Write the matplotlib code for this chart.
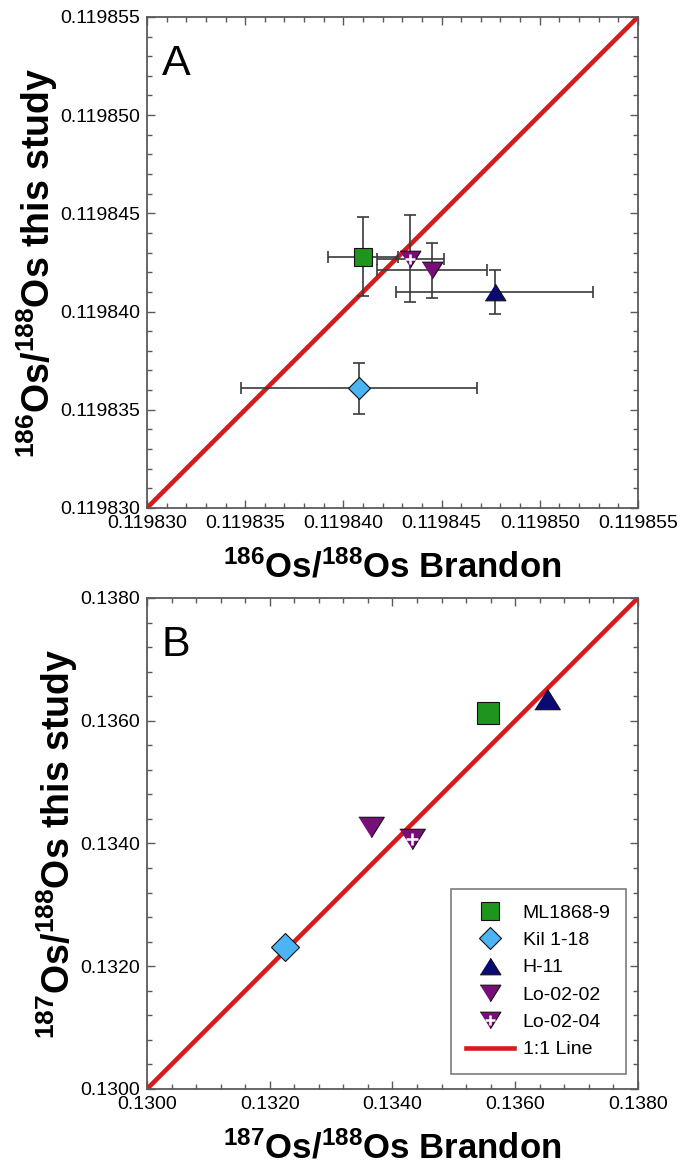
import numpy as np
import matplotlib
matplotlib.use('Agg')
import matplotlib.pyplot as plt
from matplotlib.lines import Line2D
from matplotlib.legend_handler import HandlerTuple
from matplotlib.ticker import MultipleLocator, AutoMinorLocator, FormatStrFormatter

plt.rcParams['font.family'] = ['Liberation Sans', 'DejaVu Sans']
plt.rcParams['mathtext.fontset'] = 'custom'
plt.rcParams['mathtext.rm'] = 'Liberation Sans:bold'
plt.rcParams['mathtext.it'] = 'Liberation Sans:bold'
plt.rcParams['mathtext.bf'] = 'Liberation Sans:bold'

samples = ['ML1868-9', 'Kil 1-18', 'H-11', 'Lo-02-02', 'Lo-02-04']

# 186Os/188Os, Brandon vs. this study, with 2 sigma errors
os186_brandon = [0.1198410, 0.1198408, 0.1198477, 0.1198445, 0.1198434]
os186_brandon_err = [0.0000018, 0.0000060, 0.0000050, 0.0000028, 0.0000017]
os186_study = [0.1198428, 0.1198361, 0.1198410, 0.1198421, 0.1198427]
os186_study_err = [0.0000020, 0.0000013, 0.0000011, 0.0000014, 0.0000022]

# 187Os/188Os, Brandon vs. this study
os187_brandon = [0.13555, 0.13225, 0.13651, 0.13365, 0.13431]
os187_study = [0.13612, 0.13232, 0.13636, 0.13427, 0.13408]

lim186 = [0.119830, 0.119855]
lim187 = [0.1300, 0.1380]

colors = ['#1e961e', '#4ab4f4', '#0a0a70', '#780f78', '#780f78']
tri_up = [(-1, -0.8), (1, -0.8), (0, 0.8)]
tri_down = [(-1, 0.8), (1, 0.8), (0, -0.8)]
markers = ['s', 'D', tri_up, tri_down, tri_down]
scale = [1.0, 0.9, 1.15, 1.15, 1.15]   # relative marker sizes per symbol
red = '#d41c1c'
axis_grey = '#5a5a5a'


def draw_points(ax, x, y, size, xerr=None, yerr=None):
    if xerr is not None:
        ax.errorbar(x, y, xerr=xerr, yerr=yerr, fmt='none', ecolor='#3a3a3a',
                    elinewidth=1.2, capsize=4.5, capthick=1.2, zorder=3)
    for i in range(len(samples)):
        ax.plot(x[i], y[i], linestyle='none', marker=markers[i], color=colors[i],
                markersize=size * scale[i], markeredgecolor='#111111',
                markeredgewidth=0.8, zorder=4)
        if samples[i] == 'Lo-02-04':
            ax.plot(x[i], y[i], linestyle='none', marker='+', color='white',
                    markersize=size * 0.55, markeredgewidth=1.8, zorder=5)


def style_axes(ax, lim, major, fmt, letter):
    ax.set_xlim(lim)
    ax.set_ylim(lim)
    for axis in (ax.xaxis, ax.yaxis):
        axis.set_major_locator(MultipleLocator(major))
        axis.set_minor_locator(AutoMinorLocator(5))
        axis.set_major_formatter(FormatStrFormatter(fmt))
    ax.tick_params(which='both', direction='in', top=True, right=True,
                   colors=axis_grey, labelcolor='black', labelsize=14, width=1.0)
    ax.tick_params(which='major', length=6, pad=5)
    ax.tick_params(which='minor', length=3.8)
    for s in ax.spines.values():
        s.set_color(axis_grey)
        s.set_linewidth(1.3)
    ax.text(0.03, 0.945, letter, transform=ax.transAxes, fontsize=31,
            va='top', ha='left')


fig = plt.figure(figsize=(6.84, 11.75), dpi=100)
axA = fig.add_axes([0.2149, 0.5677, 0.7178, 0.4179])
axB = fig.add_axes([0.2149, 0.0732, 0.7178, 0.4179])

# panel A: 186Os/188Os
axA.plot(lim186, lim186, color=red, linewidth=3.3, zorder=2)
draw_points(axA, os186_brandon, os186_study, 13,
            xerr=os186_brandon_err, yerr=os186_study_err)
style_axes(axA, lim186, 0.000005, '%.6f', 'A')
axA.set_xlabel(r'$^{186}$Os/$^{188}$Os Brandon', fontsize=25, fontweight='bold', labelpad=13)
axA.set_ylabel(r'$^{186}$Os/$^{188}$Os this study', fontsize=27, fontweight='bold', labelpad=0)

# panel B: 187Os/188Os
axB.plot(lim187, lim187, color=red, linewidth=3.3, zorder=2)
draw_points(axB, os187_brandon, os187_study, 16)
style_axes(axB, lim187, 0.002, '%.4f', 'B')
axB.set_xlabel(r'$^{187}$Os/$^{188}$Os Brandon', fontsize=25, fontweight='bold', labelpad=13)
axB.set_ylabel(r'$^{187}$Os/$^{188}$Os this study', fontsize=27, fontweight='bold', labelpad=0)

# legend with proxy handles
handles = []
for i in range(len(samples)):
    h = Line2D([], [], linestyle='none', marker=markers[i], color=colors[i],
               markersize=13 * scale[i], markeredgecolor='#111111', markeredgewidth=0.8)
    if samples[i] == 'Lo-02-04':
        plus = Line2D([], [], linestyle='none', marker='+', color='white',
                      markersize=7, markeredgewidth=1.8)
        h = (h, plus)
    handles.append(h)
handles.append(Line2D([], [], color=red, linewidth=3.3))
labels = samples + ['1:1 Line']
leg = axB.legend(handles, labels, loc='lower right', bbox_to_anchor=(0.9756, 0.0305),
                 borderaxespad=0, fontsize=14, frameon=True, fancybox=False,
                 edgecolor=axis_grey, handlelength=2.45, borderpad=0.8,
                 labelspacing=0.5, handletextpad=0.45,
                 handler_map={tuple: HandlerTuple(ndivide=1, pad=0)})
leg.get_frame().set_linewidth(1.2)

fig.savefig('out.png', dpi=100)
